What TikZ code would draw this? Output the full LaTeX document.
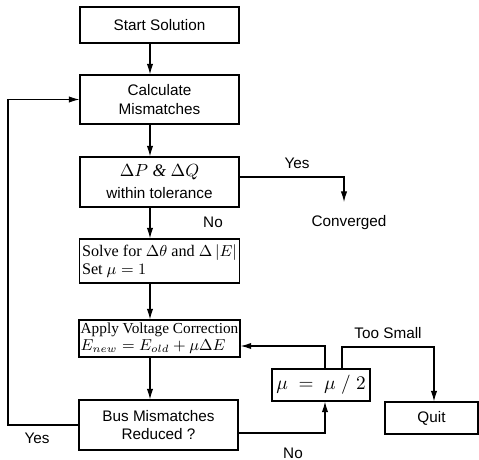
\documentclass[tikz,border=0pt]{standalone}
\usepackage{fontspec}
\setmainfont{Liberation Sans}
\newfontfamily\tnr{Liberation Serif}
\usepackage{tikz}
\usetikzlibrary{arrows.meta,positioning,calc}

\tikzset{
  box/.style={draw, line width=0.7pt, minimum width=3.18cm, inner sep=2pt,
    align=center, font=\fontsize{8.7}{10.5}\selectfont},
  smallbox/.style={box, minimum height=0.64cm},
  lbl/.style={font=\fontsize{8.7}{10.5}\selectfont, inner sep=0pt},
  flow/.style={line width=0.6pt, -{Latex[length=6pt,width=3.6pt]}},
  wire/.style={line width=0.6pt}
}

\begin{document}
\begin{tikzpicture}[x=0.02cm, y=-0.02cm]
  \useasboundingbox (0,0) rectangle (479,459);
  % main column
  \node[box, minimum height=0.72cm] (start) at (159.5,25) {Start Solution};
  \node[box, minimum height=0.98cm] (calc) at (159.5,99.5) {Calculate\\Mismatches};
  \node[box, minimum height=1.0cm] (tol) at (159.5,182)
    {{\fontsize{10}{12}\selectfont\tnr $\Delta P$ \textit{\&} $\Delta Q$}\\[2pt]within tolerance};
  \node[box, minimum height=0.88cm, align=left, font=\fontsize{9.2}{10.5}\selectfont\tnr, inner sep=1.5pt] (solve) at (159.5,261)
    {Solve for $\Delta\theta$ and $\Delta\left|E\right|$\\Set $\mu = 1$};
  \node[box, minimum height=0.74cm, align=left, font=\fontsize{8.7}{9.5}\selectfont\tnr, inner sep=1pt] (apply) at (159.5,338.5)
    {Apply Voltage Correction\\$E_{new} = E_{old} + \mu\Delta E$};
  \node[box, minimum height=1.0cm] (bus) at (158.5,425) {Bus Mismatches\\Reduced ?};
  % step halving and quit
  \node[smallbox, minimum width=1.96cm, font=\fontsize{10.5}{13}\selectfont] (half) at (321,385) {$\mu\;=\;\mu\;/\;2$};
  \node[smallbox, minimum width=1.86cm] (quit) at (431.5,418) {Quit};
  \node[lbl] (conv) at (349,223) {Converged};

  % arrows down the column
  \coordinate (ax) at (150,0);
  \draw[flow] (start.south -| ax) -- (calc.north -| ax);
  \draw[flow] (calc.south -| ax) -- (tol.north -| ax);
  \draw[flow] (tol.south -| ax) -- (solve.north -| ax);
  \draw[flow] (solve.south -| ax) -- (apply.north -| ax);
  \draw[flow] (apply.south -| ax) -- (bus.north -| ax);

  % converged branch
  \coordinate (cv) at (344,202);
  \draw[flow] (tol.east |- 0,177) -| (cv);

  % back to mismatches
  \coordinate (lx) at (8,0);
  \draw[flow] (bus.west) -| (lx |- calc.west) -- (calc.west);

  % not reduced
  \coordinate (hx) at (325,0);
  \draw[flow] (bus.east |- 0,433) -| (half.south -| hx);
  \draw[flow] (half.north -| hx) |- (apply.east |- 0,346);
  \coordinate (qx) at (342,0);
  \draw[flow] (half.north -| qx) |- (434,347) -- (quit.north -| 434,0);

  % labels
  \node[lbl] at (297,163) {Yes};
  \node[lbl] at (213,222) {No};
  \node[lbl] at (37,438) {Yes};
  \node[lbl] at (293,453) {No};
  \node[lbl] at (388,333) {Too Small};
\end{tikzpicture}
\end{document}
